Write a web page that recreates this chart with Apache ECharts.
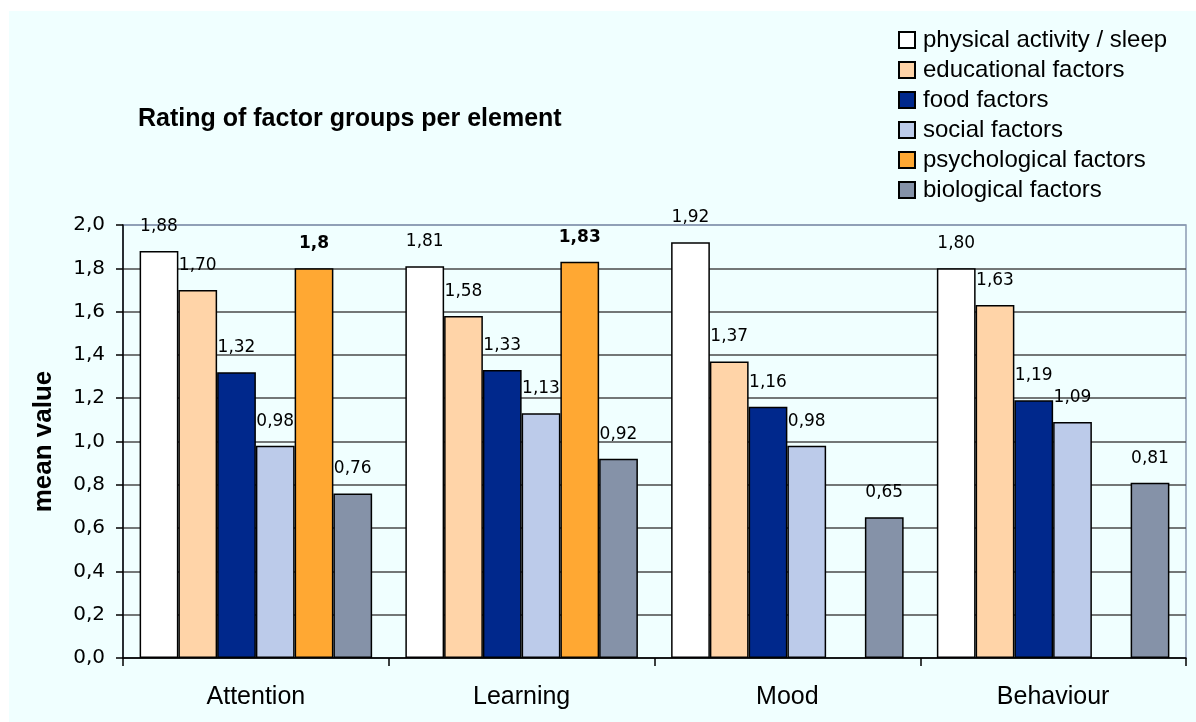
<!DOCTYPE html>
<html>
<head>
<meta charset="utf-8">
<title>Rating of factor groups per element</title>
<script src="https://cdn.jsdelivr.net/npm/echarts@6/dist/echarts.min.js"></script>
<style>
  html, body { margin: 0; padding: 0; background: #ffffff; width: 1196px; height: 722px; overflow: hidden; }
  #chart { position: absolute; left: 9px; top: 11px; width: 1187px; height: 711px; }
</style>
</head>
<body>
<div id="chart"></div>
<script>
// Elements rated
const categories = ['Attention', 'Learning', 'Mood', 'Behaviour'];

// Mean rating per factor group (null = not rated for that element)
const physicalActivitySleep = [1.88, 1.81, 1.92, 1.80];
const educationalFactors   = [1.70, 1.58, 1.37, 1.63];
const foodFactors          = [1.32, 1.33, 1.16, 1.19];
const socialFactors        = [0.98, 1.13, 0.98, 1.09];
const psychologicalFactors = [1.8, 1.83, null, null];
const biologicalFactors    = [0.76, 0.92, 0.65, 0.81];

const seriesNames = [
  'physical activity / sleep',
  'educational factors',
  'food factors',
  'social factors',
  'psychological factors',
  'biological factors'
];

// Value axis range
const yMin = 0;
const yMax = 2;
const yStep = 0.2;

const seriesValues = [
  physicalActivitySleep,
  educationalFactors,
  foodFactors,
  socialFactors,
  psychologicalFactors,
  biologicalFactors
];
const seriesColors = ['#ffffff', '#ffd4a8', '#00288c', '#bccbea', '#ffa833', '#8592a8'];

const comma = s => String(s).replace('.', ',');
const labelFont = 'DejaVu Sans, Verdana, sans-serif';
const textFont = 'Liberation Sans, Arial, sans-serif';

const series = seriesValues.map((vals, i) => {
  const isPsych = i === 4;
  return {
    name: seriesNames[i],
    type: 'bar',
    data: vals,
    barGap: '0%',
    barCategoryGap: '12.5%',
    itemStyle: { color: seriesColors[i], borderColor: '#000000', borderWidth: 1.5 },
    label: {
      show: true,
      position: 'top',
      distance: 16,
      color: '#000000',
      fontFamily: labelFont,
      fontSize: 17,
      fontWeight: isPsych ? 'bold' : 'normal',
      formatter: p => p.value == null ? '' : (isPsych ? comma(p.value) : comma(Number(p.value).toFixed(2)))
    },
    emphasis: { disabled: true }
  };
});

// Gridlines: dark inside the plot, the top one matches the frame colour
const gridLineColors = [];
for (let v = yMin; v <= yMax + 1e-9; v += yStep) gridLineColors.push('#4a4a4a');
gridLineColors[gridLineColors.length - 1] = '#8a9ab2';

const chart = echarts.init(document.getElementById('chart'), null, { renderer: 'canvas' });
chart.setOption({
  backgroundColor: '#f0ffff',
  animation: false,
  title: {
    text: 'Rating of factor groups per element',
    left: 124,
    top: 91,
    textStyle: { fontFamily: textFont, fontSize: 25, fontWeight: 'bold', color: '#000000' }
  },
  legend: {
    orient: 'vertical',
    left: 889,
    top: 17,
    padding: 0,
    itemWidth: 16,
    itemHeight: 16,
    itemGap: 6,
    icon: 'rect',
    selectedMode: false,
    textStyle: { fontFamily: textFont, fontSize: 24, color: '#000000', padding: [0, 0, 0, 3] },
    data: seriesNames
  },
  grid: {
    left: 114,
    top: 214,
    right: 10,
    bottom: 64,
    show: true,
    borderColor: '#8a9ab2',
    borderWidth: 1.5,
    backgroundColor: 'transparent'
  },
  xAxis: {
    type: 'category',
    data: categories,
    axisLine: { lineStyle: { color: '#000000', width: 1.5 } },
    axisTick: { show: true, length: 8, lineStyle: { color: '#000000', width: 1.5 } },
    axisLabel: { fontFamily: textFont, fontSize: 25, color: '#000000', margin: 27 },
    splitLine: { show: false }
  },
  yAxis: {
    type: 'value',
    min: yMin,
    max: yMax,
    interval: yStep,
    name: 'mean value',
    nameLocation: 'middle',
    nameRotate: 90,
    nameGap: 66,
    nameTextStyle: { fontFamily: textFont, fontSize: 26, fontWeight: 'bold', color: '#000000' },
    axisLine: { show: true, lineStyle: { color: '#000000', width: 1.5 } },
    axisTick: { show: true, length: 7, lineStyle: { color: '#000000', width: 1.5 } },
    axisLabel: {
      fontFamily: labelFont,
      fontSize: 20,
      color: '#000000',
      margin: 18,
      formatter: v => comma(v.toFixed(1))
    },
    splitLine: { show: true, lineStyle: { color: gridLineColors, width: 1.5 } }
  },
  series: series
});
</script>
</body>
</html>
